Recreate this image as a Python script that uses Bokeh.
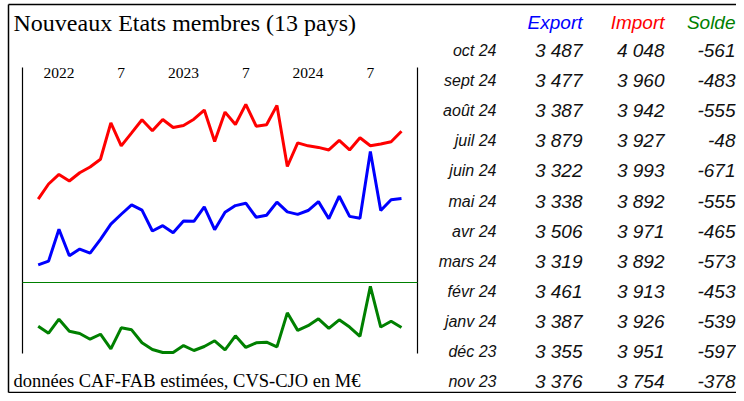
from bokeh.plotting import figure
from bokeh.models import Range1d, ColumnDataSource
from bokeh.core.properties import value
from bokeh.embed import file_html
from bokeh.resources import INLINE

# ---------------- data (nov 2021 .. oct 2024, M€) ----------------
export_vals = [2934, 2965, 3231, 3010, 3066, 3032, 3147, 3273, 3356, 3434, 3390, 3216,
               3261, 3202, 3300, 3297, 3417, 3227, 3373, 3428, 3448, 3331, 3348, 3457,
               3376, 3355, 3387, 3461, 3319, 3506, 3338, 3322, 3879, 3387, 3477, 3487]
import_vals = [3482, 3608, 3688, 3633, 3702, 3750, 3814, 4118, 3926, 4034, 4143, 4051,
               4146, 4079, 4096, 4148, 4224, 3962, 4207, 4104, 4272, 4090, 4102, 4263,
               3754, 3951, 3926, 3913, 3892, 3971, 3892, 3993, 3927, 3942, 3960, 4048]
solde_vals = [-545, -632, -457, -607, -636, -707, -645, -827, -565, -590, -752, -835,
              -873, -873, -786, -848, -798, -727, -839, -665, -810, -752, -744, -802,
              -378, -597, -539, -453, -573, -465, -555, -671, -48, -555, -483, -561]
month_index = list(range(len(export_vals)))

tick_months = [2, 8, 14, 20, 26, 32]
tick_labels = ["2022", "7", "2023", "7", "2024", "7"]

table_months = ["nov 23", "déc 23", "janv 24", "févr 24", "mars 24", "avr 24",
                "mai 24", "juin 24", "juil 24", "août 24", "sept 24", "oct 24"]
headers = ["Export", "Import", "Solde"]
header_colors = ["#0000ff", "#ff0000", "#008000"]

title_text = "Nouveaux Etats membres (13 pays)"
footer_text = "données CAF-FAB estimées, CVS-CJO en M€"

# ---------------- layout ----------------
W, H = 736, 393
X_PX0, X_STEP = 37.7, 10.38
x0 = -X_PX0 / X_STEP
x1 = x0 + W / X_STEP
Y_SCALE = 0.12
y_top = 4048 + 130.7 / Y_SCALE
y_bot = y_top - H / Y_SCALE
S_SCALE = 0.0802
s_top = 282 / S_SCALE
s_bot = (282 - H) / S_SCALE

p = figure(width=W, height=H, output_backend="svg", toolbar_location=None,
           x_axis_type=None, y_axis_type=None, min_border=0,
           x_range=Range1d(x0, x1), y_range=Range1d(y_bot, y_top))
p.outline_line_color = None
p.background_fill_color = "white"
p.border_fill_color = "white"
p.extra_x_ranges = {"px": Range1d(0, W)}
p.extra_y_ranges = {"py": Range1d(H, 0), "solde": Range1d(s_bot, s_top)}

# frame lines (left, top, bottom)
p.segment(x0=[8, 8, 8], y0=[4, 4, 392], x1=[8, 736, 736], y1=[392, 4, 392],
          x_range_name="px", y_range_name="py", line_color="black", line_width=1.5)
# inner vertical lines
p.segment(x0=[22, 417], y0=[67, 67], x1=[22, 417], y1=[353, 353],
          x_range_name="px", y_range_name="py", line_color="black", line_width=1.2)
# zero line for solde
p.segment(x0=[22], y0=[0], x1=[417], y1=[0], x_range_name="px", y_range_name="solde",
          line_color="#008000", line_width=1)

src = ColumnDataSource(dict(x=month_index, exp=export_vals, imp=import_vals, sol=solde_vals))
p.line("x", "imp", source=src, line_color="#ff0000", line_width=3)
p.line("x", "exp", source=src, line_color="#0000ff", line_width=3)
p.line("x", "sol", source=src, line_color="#008000", line_width=3, y_range_name="solde")

serif = value("Liberation Serif")
sans = value("Liberation Sans")

# month/year labels
p.text(x=tick_months, y=[72] * len(tick_months), text=tick_labels, y_range_name="py",
       text_font=serif, text_font_size=value("15.5px"),
       text_align="center", text_baseline="middle", text_color="black")

# title & footer
p.text(x=[13], y=[22.5], text=[title_text], x_range_name="px", y_range_name="py",
       text_font=serif, text_font_size=value("24px"),
       text_align="left", text_baseline="middle", text_color="black")
p.text(x=[13], y=[380.5], text=[footer_text], x_range_name="px", y_range_name="py",
       text_font=serif, text_font_size=value("18.5px"),
       text_align="left", text_baseline="middle", text_color="black")

# table
col_right = [582, 664, 735]
p.text(x=col_right, y=[21.5] * 3, text=headers, text_color=header_colors,
       x_range_name="px", y_range_name="py",
       text_font=sans, text_font_size=value("19px"),
       text_font_style="italic", text_align="right", text_baseline="middle")

def fmt(v):
    return f"{v:,}".replace(",", " ")

n = len(table_months)
rows_y = [50.2 + 30.07 * k for k in range(n)]
rev_months = table_months[::-1]
last_exp = export_vals[-n:][::-1]
last_imp = import_vals[-n:][::-1]
last_sol = solde_vals[-n:][::-1]

p.text(x=[496] * n, y=rows_y, text=rev_months, x_range_name="px", y_range_name="py",
       text_font=sans, text_font_size=value("16px"),
       text_font_style="italic", text_align="right", text_baseline="middle",
       text_color="#111111")
for cx, vals in zip(col_right, [last_exp, last_imp, last_sol]):
    p.text(x=[cx] * n, y=rows_y, text=[fmt(v) for v in vals], x_range_name="px", y_range_name="py",
           text_font=sans, text_font_size=value("19px"),
           text_font_style="italic", text_align="right", text_baseline="middle",
           text_color="#111111")

open("out.html", "w").write(file_html(p, INLINE))
